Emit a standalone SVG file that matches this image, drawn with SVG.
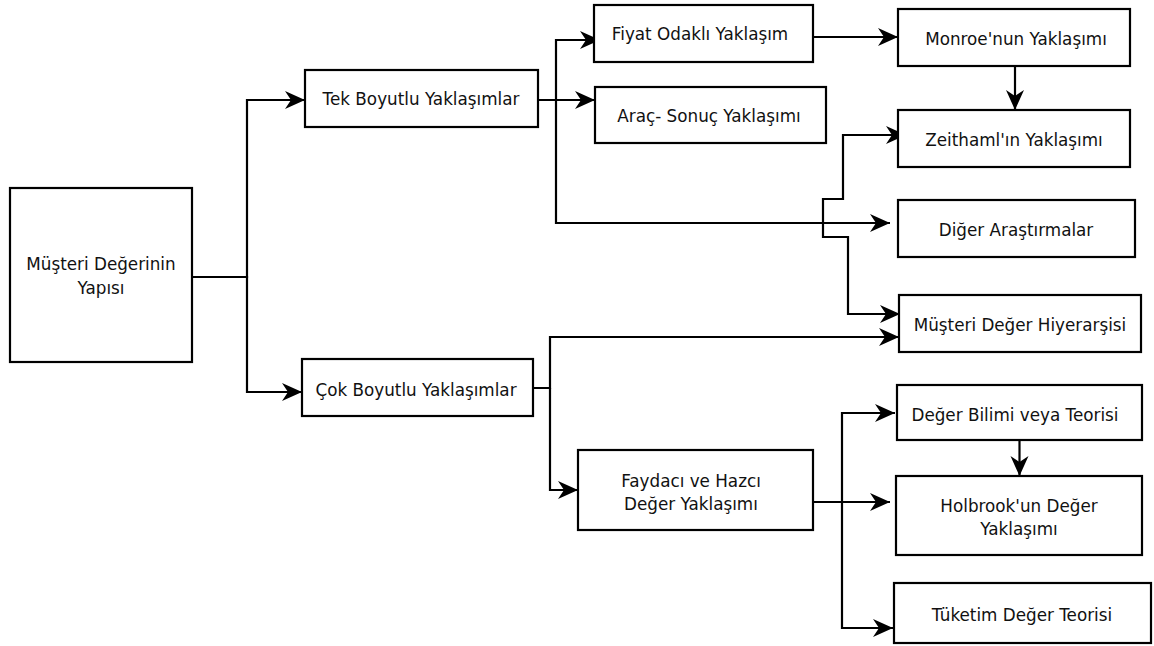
<svg xmlns="http://www.w3.org/2000/svg" width="1154" height="646" viewBox="0 0 1154 646">
<defs>
<style>
.box{fill:#fff;stroke:#000;stroke-width:2.2}
.lbl{font-family:"DejaVu Sans","Liberation Sans",sans-serif;font-size:16.8px;fill:#111;text-anchor:middle}
.edge{fill:none;stroke:#000;stroke-width:2.2}
</style>
<marker id="arr" markerUnits="userSpaceOnUse" viewBox="0 0 20 20" markerWidth="20" markerHeight="20" refX="20" refY="10" orient="auto-start-reverse">
<path d="M0,1 L20,10 L0,19 L6,10 Z" fill="#000"/>
</marker>
</defs>
<rect width="1154" height="646" fill="#fff"/>
<g id="connectors">
<path class="edge" d="M192,277 H247 V100 H305" marker-end="url(#arr)"/>
<path class="edge" d="M192,277 H247 V392 H302" marker-end="url(#arr)"/>
<path class="edge" d="M192,277 H247" stroke-width="3.2"/>
<path class="edge" d="M538,100 H556 V40 H600" marker-end="url(#arr)"/>
<path class="edge" d="M538,100 H595" marker-end="url(#arr)"/>
<path class="edge" d="M556,100 V223 H890" marker-end="url(#arr)"/>
<path class="edge" d="M813,37 H898" marker-end="url(#arr)"/>
<path class="edge" d="M1015,66 V110" marker-end="url(#arr)"/>
<path class="edge" d="M906,135 H843 V199 H823 V237 H848 V314 H900" marker-start="url(#arr)" marker-end="url(#arr)"/>
<path class="edge" d="M533,388 H550 V337 H899" marker-end="url(#arr)"/>
<path class="edge" d="M550,388 V490 H578" marker-end="url(#arr)"/>
<path class="edge" d="M813,502 H890" marker-end="url(#arr)"/>
<path class="edge" d="M842,502 V413 H895" marker-end="url(#arr)"/>
<path class="edge" d="M842,502 V628 H893" marker-end="url(#arr)"/>
<path class="edge" d="M1019.5,440 V476" marker-end="url(#arr)"/>
</g>
<g id="node-root">
<rect class="box" x="10" y="188" width="182" height="174"/>
<text class="lbl" x="101" y="270">Müşteri Değerinin</text>
<text class="lbl" x="101" y="294">Yapısı</text>
</g>
<g id="node-tek">
<rect class="box" x="305" y="70" width="233" height="57"/>
<text class="lbl" x="421" y="105">Tek Boyutlu Yaklaşımlar</text>
</g>
<g id="node-cok">
<rect class="box" x="302" y="359" width="231" height="57"/>
<text class="lbl" x="416" y="396">Çok Boyutlu Yaklaşımlar</text>
</g>
<g id="node-fiyat">
<rect class="box" x="594" y="5" width="219" height="57"/>
<text class="lbl" x="700" y="40">Fiyat Odaklı Yaklaşım</text>
</g>
<g id="node-arac">
<rect class="box" x="595" y="87" width="231" height="56"/>
<text class="lbl" x="709" y="122">Araç- Sonuç Yaklaşımı</text>
</g>
<g id="node-monroe">
<rect class="box" x="898" y="9" width="232" height="57"/>
<text class="lbl" x="1016" y="45">Monroe'nun Yaklaşımı</text>
</g>
<g id="node-zeithaml">
<rect class="box" x="898" y="110" width="232" height="57"/>
<text class="lbl" x="1014" y="146">Zeithaml'ın Yaklaşımı</text>
</g>
<g id="node-diger">
<rect class="box" x="898" y="200" width="237" height="57"/>
<text class="lbl" x="1016" y="236">Diğer Araştırmalar</text>
</g>
<g id="node-hiyerarsi">
<rect class="box" x="899" y="295" width="242" height="57"/>
<text class="lbl" x="1020" y="331">Müşteri Değer Hiyerarşisi</text>
</g>
<g id="node-faydaci">
<rect class="box" x="578" y="450" width="235" height="80"/>
<text class="lbl" x="691" y="487">Faydacı ve Hazcı</text>
<text class="lbl" x="691" y="510">Değer Yaklaşımı</text>
</g>
<g id="node-degerbilimi">
<rect class="box" x="897" y="385" width="245" height="55"/>
<text class="lbl" x="1015" y="421">Değer Bilimi veya Teorisi</text>
</g>
<g id="node-holbrook">
<rect class="box" x="896" y="476" width="246" height="79"/>
<text class="lbl" x="1019" y="512">Holbrook'un Değer</text>
<text class="lbl" x="1019" y="535">Yaklaşımı</text>
</g>
<g id="node-tuketim">
<rect class="box" x="894" y="583" width="257" height="60"/>
<text class="lbl" x="1022" y="621">Tüketim Değer Teorisi</text>
</g>
</svg>
